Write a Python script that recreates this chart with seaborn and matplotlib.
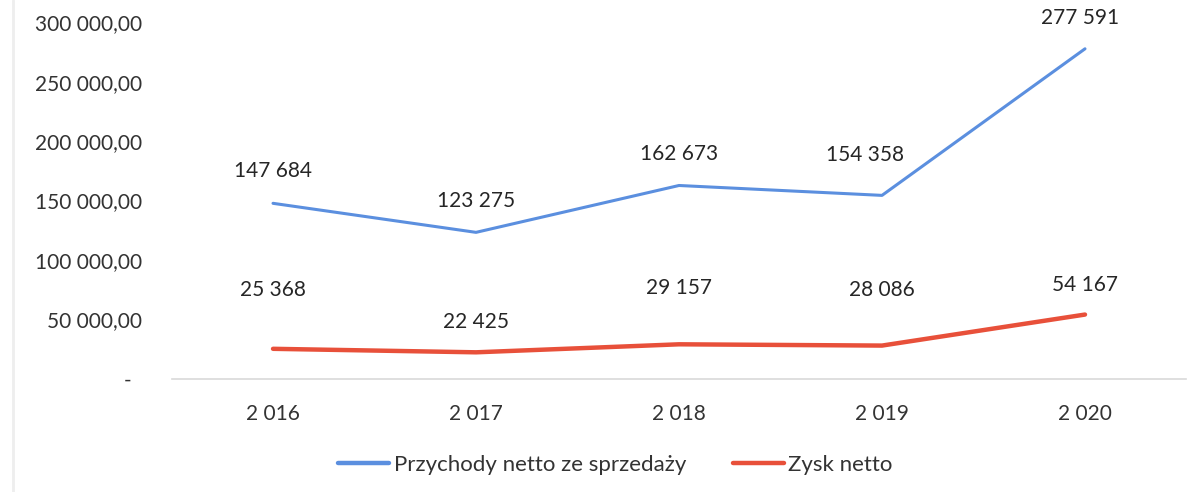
import pandas as pd
import seaborn as sns
import matplotlib.pyplot as plt
import matplotlib.ticker as mtick

# ----------------------------
# Data
# ----------------------------
years = ["2 016", "2 017", "2 018", "2 019", "2 020"]
revenue = [147684, 123275, 162673, 154358, 277591]
profit = [25368, 22425, 29157, 28086, 54167]
series_names = ["Przychody netto ze sprzedaży", "Zysk netto"]

# label offsets (pixels) - labels sit where they were dragged in the original
rev_offsets = [(0, 32), (0, 31), (0, 31), (-17, 40), (-5, 31)]
prof_offsets = [(0, 59), (0, 30), (0, 56), (0, 56), (0, 30)]

COLORS = {"revenue": "#5B8FDF", "profit": "#E8503A"}

sns.set_theme(style="white")
plt.rcParams["font.family"] = ["Lato", "DejaVu Sans"]

df = pd.DataFrame({
    "year": years * 2,
    "value": revenue + profit,
    "series": [series_names[0]] * len(years) + [series_names[1]] * len(years),
})


def fmt_pl(x, pos):
    if abs(x) < 1e-9:
        return "-  "
    s = f"{x:,.2f}"
    return s.replace(",", " ").replace(".", ",")


fig = plt.figure(figsize=(12.02, 4.92), dpi=100)
ax = fig.add_axes([0.1427, 0.2297, 0.8444, 0.7253])

sns.lineplot(data=df[df.series == series_names[0]], x="year", y="value",
             color=COLORS["revenue"], linewidth=2.2, ax=ax, label=series_names[0])
sns.lineplot(data=df[df.series == series_names[1]], x="year", y="value",
             color=COLORS["profit"], linewidth=3.2, ax=ax, label=series_names[1])

ax.set_xlim(-0.5, len(years) - 0.5)
ax.set_ylim(0, 300000)
ax.yaxis.set_major_locator(mtick.MultipleLocator(50000))
ax.yaxis.set_major_formatter(mtick.FuncFormatter(fmt_pl))
ax.set_xlabel("")
ax.set_ylabel("")
ax.tick_params(axis="y", length=0, pad=21, labelsize=15, labelcolor="#333333")
ax.tick_params(axis="x", length=0, pad=18, labelsize=15, labelcolor="#333333")

for side in ["top", "right", "left"]:
    ax.spines[side].set_visible(False)
ax.spines["bottom"].set_color("#D9D9D9")
ax.spines["bottom"].set_linewidth(1.2)

# data labels
for i, (v, off) in enumerate(zip(revenue, rev_offsets)):
    ax.annotate(f"{v:,}".replace(",", " "), (i, v), xytext=off,
                textcoords="offset pixels", ha="center", va="center",
                fontsize=15, color="#262626")
for i, (v, off) in enumerate(zip(profit, prof_offsets)):
    ax.annotate(f"{v:,}".replace(",", " "), (i, v), xytext=off,
                textcoords="offset pixels", ha="center", va="center",
                fontsize=15, color="#262626")

ax.get_legend().remove()
handles, labels = ax.get_legend_handles_labels()
leg = fig.legend(handles, labels, loc="center", bbox_to_anchor=(0.512, 0.055),
                 ncol=2, frameon=False, fontsize=16, handlelength=2.3,
                 handletextpad=0.2, columnspacing=2.1, labelcolor="#333333")
for line in leg.get_lines():
    line.set_linewidth(3.2)

# faint scan edge on the left
fig.add_artist(plt.Line2D([0.011, 0.011], [0, 1], color="#EEEEEE", linewidth=2))

plt.savefig("out.png", dpi=100)
plt.close()
